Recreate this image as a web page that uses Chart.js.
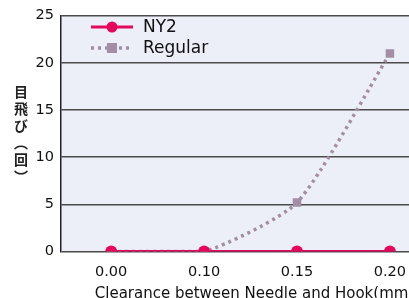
<!DOCTYPE html>
<html>
<head>
<meta charset="utf-8">
<script src="https://cdn.jsdelivr.net/npm/chart.js@4"></script>
<style>
  html, body { margin: 0; padding: 0; background: #fff; overflow: hidden; }
  #wrap { position: relative; width: 409px; height: 298px; overflow: hidden; }
  #box { position: absolute; left: 0; top: 0; width: 454px; height: 303px; }
  #ytitle {
    position: absolute; left: 14px; top: 85px;
    writing-mode: vertical-rl;
    font-family: "Noto Sans CJK JP", sans-serif; font-size: 14px; font-weight: bold;
    color: #222; letter-spacing: 3px; line-height: 1;
  }
</style>
</head>
<body>
<div id="wrap">
  <div id="box"><canvas id="chart"></canvas></div>
  <div id="ytitle">目飛び（回）</div>
</div>
<script>
// chart data
const categories = ['0.00', '0.10', '0.15', '0.20'];
const ny2Values = [0, 0, 0, 0];
const regularValues = [0, 0, 5.2, 21];
const yTicks = [0, 5, 10, 15, 20, 25];

const ny2Color = '#e2095c';
const regularColor = '#a38fa3';
const fontFamily = '"DejaVu Sans", Verdana, sans-serif';

// light lavender plot background
const plotBg = {
    id: 'plotBg',
    beforeDraw(chart) {
        const { ctx, chartArea: a } = chart;
        ctx.save();
        ctx.fillStyle = '#eceef8';
        ctx.fillRect(a.left, a.top, a.right - a.left, a.bottom - a.top);
        ctx.restore();
    }
};

// legend inside the plot: line sample + marker + label
const innerLegend = {
    id: 'innerLegend',
    afterDraw(chart) {
        const ctx = chart.ctx;
        const x0 = 91, x1 = 133, xm = 112;
        const rows = [{ y: 27 }, { y: 48 }];
        ctx.save();
        chart.data.datasets.forEach((ds, i) => {
            const y = rows[i].y;
            ctx.strokeStyle = ds.borderColor;
            ctx.lineWidth = ds.borderWidth;
            ctx.setLineDash(ds.borderDash || []);
            ctx.beginPath();
            ctx.moveTo(x0, y);
            ctx.lineTo(x1, y);
            ctx.stroke();
            ctx.setLineDash([]);
            ctx.fillStyle = ds.pointBackgroundColor;
            if (ds.pointStyle === 'rect') {
                ctx.fillRect(xm - 5, y - 5, 10, 10);
            } else {
                ctx.beginPath();
                ctx.arc(xm, y, 5.5, 0, Math.PI * 2);
                ctx.fill();
            }
            ctx.fillStyle = '#111';
            ctx.font = '17px ' + fontFamily;
            ctx.textBaseline = 'middle';
            ctx.fillText(ds.label, 143, y + 1);
        });
        ctx.restore();
    }
};

new Chart(document.getElementById('chart'), {
    type: 'line',
    data: {
        datasets: [
            {
                label: 'NY2',
                data: ny2Values.map((v, i) => ({ x: i, y: v })),
                borderColor: ny2Color,
                backgroundColor: ny2Color,
                pointBackgroundColor: ny2Color,
                pointBorderWidth: 0,
                pointRadius: 6,
                pointStyle: 'circle',
                borderWidth: 3,
                tension: 0
            },
            {
                label: 'Regular',
                data: regularValues.map((v, i) => ({ x: i, y: v })),
                borderColor: regularColor,
                backgroundColor: regularColor,
                pointBackgroundColor: regularColor,
                pointBorderWidth: 0,
                pointRadius: 6,
                pointStyle: 'rect',
                borderWidth: 3.5,
                borderDash: [3, 4],
                tension: 0.2
            }
        ]
    },
    options: {
        responsive: true,
        maintainAspectRatio: false,
        animation: false,
        layout: { padding: { top: 6, right: 0, left: 0, bottom: 0 } },
        plugins: { legend: { display: false }, tooltip: { enabled: false } },
        scales: {
            x: {
                type: 'linear',
                min: -0.54,
                max: 3.625,
                afterBuildTicks: (axis) => {
                    axis.ticks = categories.map((c, i) => ({ value: i }));
                },
                ticks: {
                    callback: (v) => categories[v],
                    color: '#111',
                    font: { family: fontFamily, size: 14.5 },
                    padding: 4
                },
                grid: { display: false },
                border: { display: false },
                title: {
                    display: true,
                    text: 'Clearance between Needle and Hook(mm)',
                    color: '#111',
                    font: { family: fontFamily, size: 15 },
                    padding: { top: 0, bottom: 0 }
                }
            },
            y: {
                min: 0,
                max: 25,
                afterBuildTicks: (axis) => {
                    axis.ticks = yTicks.map(v => ({ value: v }));
                },
                afterFit: (axis) => { axis.width = 61; },
                ticks: {
                    color: '#111',
                    font: { family: fontFamily, size: 14.5 },
                    padding: 7
                },
                grid: { color: '#4a4a4a', lineWidth: 1.5, drawTicks: false },
                border: { display: true, color: '#222', width: 1.5 }
            }
        }
    },
    plugins: [plotBg, innerLegend]
});
</script>
</body>
</html>
